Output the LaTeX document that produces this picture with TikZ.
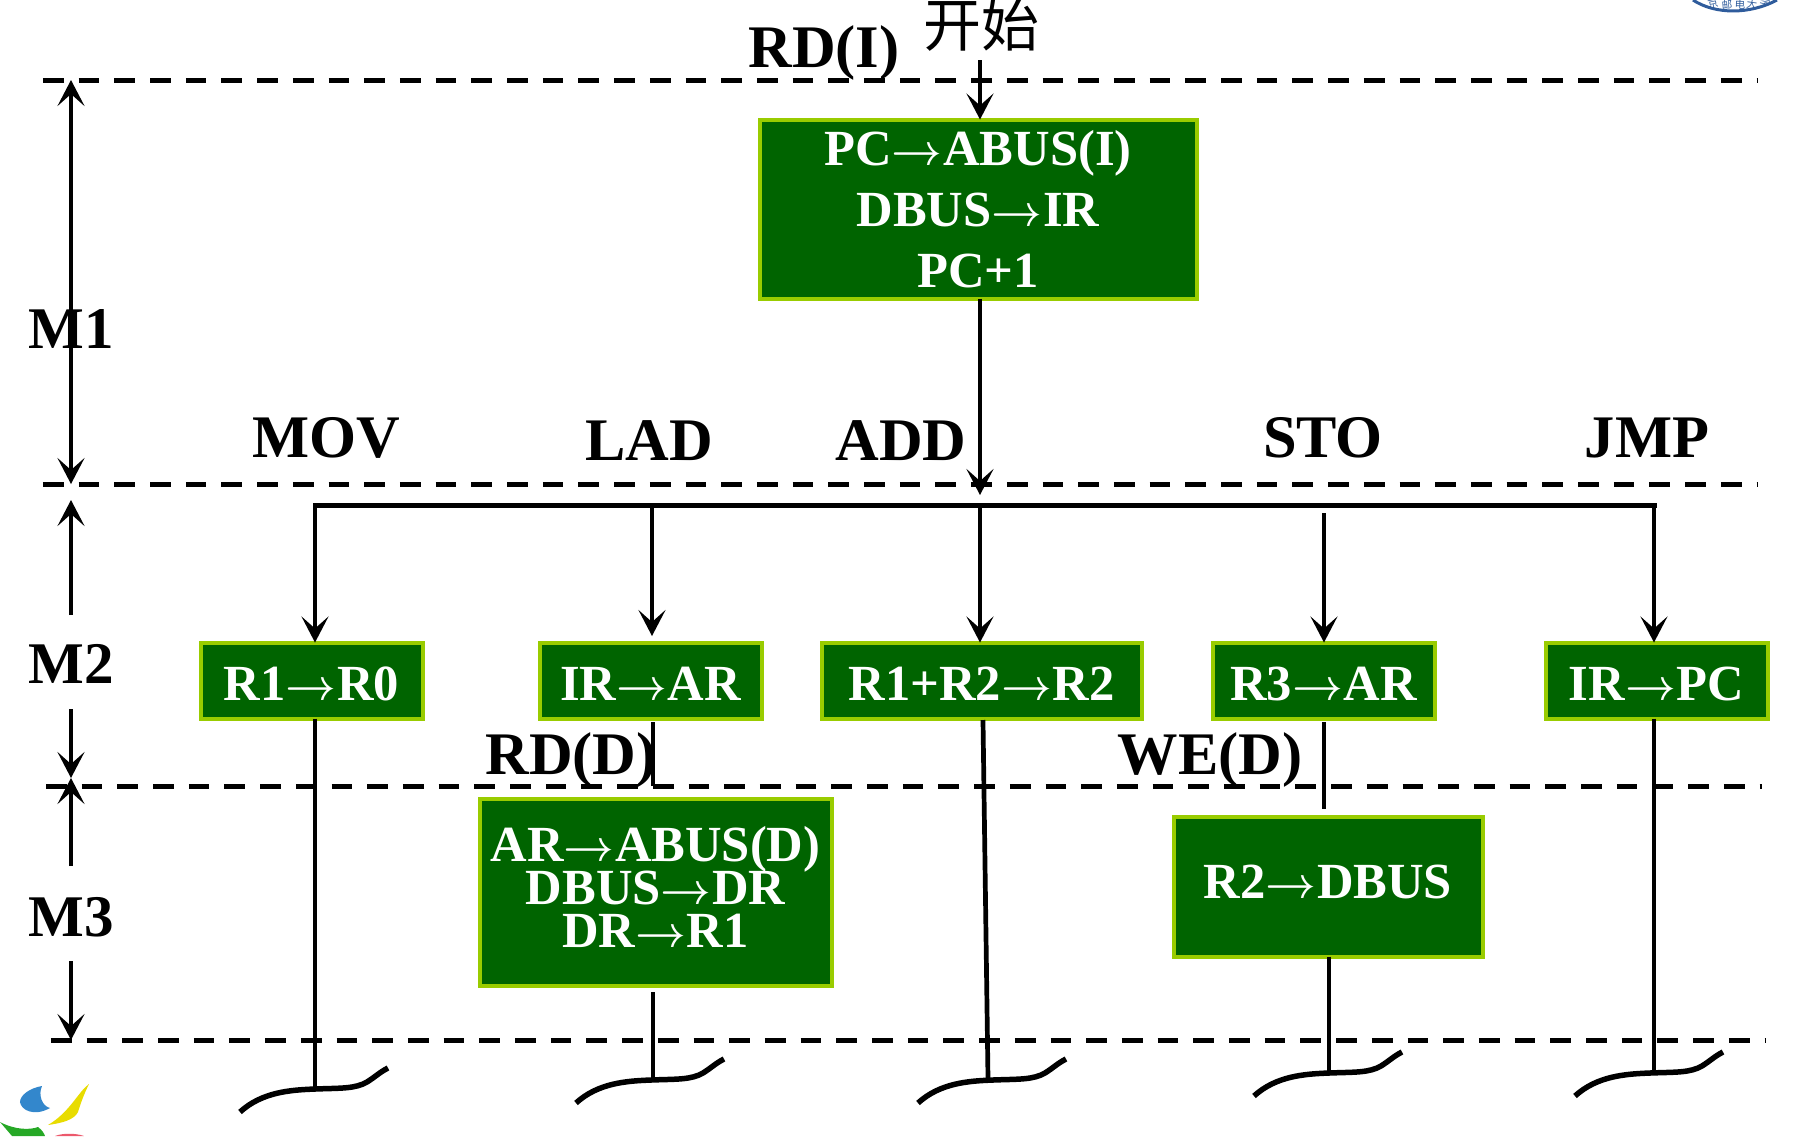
\documentclass[tikz,border=0pt]{standalone}
\usepackage{fontspec}
\setmainfont{Liberation Serif}
\newfontfamily\cjk{Noto Sans CJK SC}
\newfontfamily\arrowfont{Latin Modern Roman}
\newcommand{\ra}{{\arrowfont\fontsize{13}{12}\selectfont →}}
\usetikzlibrary{arrows.meta}
\definecolor{boxgreen}{HTML}{006400}
\definecolor{boxedge}{HTML}{99CC00}
\definecolor{sealblue}{HTML}{2F5C9C}
\tikzset{
  cyc/.style={draw=boxedge,fill=boxgreen,line width=0.04cm,text=white,font=\fontsize{14.4}{17.4}\selectfont\bfseries,align=center,inner sep=0pt,outer sep=0pt},
  lab/.style={font=\fontsize{17.2}{20}\selectfont\bfseries,inner sep=0pt},
  mlab/.style={font=\fontsize{16.8}{20}\selectfont\bfseries,inner sep=0pt},
  phase/.style={line width=0.05cm,dash pattern=on 0.207cm off 0.15cm},
  flow/.style={line width=0.047cm,-{Stealth[length=2.6mm,width=2.7mm,inset=1.2mm]}},
  both/.style={line width=0.047cm,{Stealth[length=2.6mm,width=2.7mm,inset=1.2mm]}-{Stealth[length=2.6mm,width=2.7mm,inset=1.2mm]}},
  wire/.style={line width=0.047cm},
  tailline/.style={line width=0.055cm,line cap=butt}
}
\newcommand{\tailcurve}[1]{\draw[tailline,shift={(#1)}] (-0.75,-0.23) .. controls (-0.53,-0.03) and (-0.25,-0.01) .. (0,0) .. controls (0.25,0.01) and (0.40,0) .. (0.52,0.07) .. controls (0.60,0.12) and (0.65,0.17) .. (0.73,0.21);}
\begin{document}
\begin{tikzpicture}
\useasboundingbox (0,0) rectangle (17.94,-11.36);
% phase boundaries
\coordinate (P1a) at (0.43,-0.80);\coordinate (P1b) at (17.57,-0.80);
\coordinate (P2a) at (0.43,-4.84);\coordinate (P2b) at (17.57,-4.84);
\coordinate (P3a) at (0.46,-7.86);\coordinate (P3b) at (17.62,-7.86);
\coordinate (P4a) at (0.51,-10.40);\coordinate (P4b) at (17.66,-10.40);
\draw[phase] (P1a)--(P1b);
\draw[phase] (P2a)--(P2b);
\draw[phase] (P3a)--(P3b);
\draw[phase] (P4a)--(P4b);
%
\node[cyc,minimum width=4.37cm,minimum height=1.79cm] (fetch) at (9.78,-2.09) {PC\ra ABUS(I)\\DBUS\ra IR\\PC+1};
\node[cyc,text height=11.5pt,minimum width=2.22cm,minimum height=0.76cm] (mov) at (3.115,-6.805) {R1\ra R0};
\node[cyc,text height=11.5pt,minimum width=2.22cm,minimum height=0.76cm] (lad) at (6.505,-6.805) {IR\ra AR};
\node[cyc,text height=11.5pt,minimum width=3.20cm,minimum height=0.76cm] (add) at (9.815,-6.805) {R1+R2\ra R2};
\node[cyc,text height=11.5pt,minimum width=2.22cm,minimum height=0.76cm] (sto) at (13.235,-6.805) {R3\ra AR};
\node[cyc,text height=11.5pt,minimum width=2.22cm,minimum height=0.76cm] (jmp) at (16.565,-6.805) {IR\ra PC};
\node[cyc,minimum width=3.52cm,minimum height=1.87cm] (ladmem) at (6.555,-8.92) {};
\node[text=white,font=\fontsize{14.4}{12.2}\selectfont\bfseries,align=center,inner sep=0pt,execute at begin node={\lineskiplimit=-10pt}] (ladtext) at (6.555,-8.87) {AR\ra ABUS(D)\\DBUS\ra DR\\DR\ra R1};
\node[cyc,text depth=2.6pt,minimum width=3.09cm,minimum height=1.40cm] (stomem) at (13.28,-8.865) {R2\ra DBUS};
%
\node[lab] (rdi) at (8.24,-0.53) {RD(I)};
\node[font=\cjk\fontsize{16.5}{18}\selectfont,inner sep=0pt] (start) at (9.81,-0.25) {开始};
\node[lab] (lmov) at (3.26,-4.38) {MOV};
\node[lab] (llad) at (6.49,-4.41) {LAD};
\node[lab] (ladd) at (9.01,-4.41) {ADD};
\node[lab] (lsto) at (13.23,-4.38) {STO};
\node[lab] (ljmp) at (16.47,-4.38) {JMP};
\node[lab] (rdd) at (5.71,-7.60) {RD(D)};
\node[lab] (wed) at (12.10,-7.60) {WE(D)};
\node[mlab] (m1) at (0.71,-3.29) {M1};
\node[mlab] (m2) at (0.71,-6.64) {M2};
\node[mlab] (m3) at (0.71,-9.17) {M3};
% cycle length arrows
\coordinate (Ma) at (0.71,-0.80);\coordinate (Mb) at (0.71,-4.84);
\coordinate (Mc) at (0.71,-5.00);\coordinate (Md) at (0.71,-6.15);
\coordinate (Me) at (0.71,-7.09);\coordinate (Mf) at (0.71,-7.78);
\coordinate (Mg) at (0.71,-8.66);\coordinate (Mh) at (0.71,-9.61);
\coordinate (Mi) at (0.71,-10.40);
\draw[both] (Ma)--(Mb);
\draw[flow] (Md)--(Mc);
\draw[flow] (Me)--(Mf);
\draw[flow] (Mg)--(Mf);
\draw[flow] (Mh)--(Mi);
% decoding bus
\coordinate (Bmov) at (3.15,-5.05);\coordinate (Blad) at (6.52,-5.05);
\coordinate (Badd) at (9.80,-5.05);\coordinate (Bsto) at (13.24,-5.13);
\coordinate (Bjmp) at (16.54,-5.05);
\coordinate (Sin) at (9.80,-0.60);
\coordinate (Sout) at (9.80,-4.95);
\draw[flow] (Sin)--(Sin |- fetch.north);
\draw[flow] (Sin |- fetch.south)--(Sout);
\draw[wire,line width=0.05cm,line cap=rect] (Bmov)--(Bjmp);
\draw[flow] (Bmov)--(Bmov |- mov.north);
\draw[flow] (Blad)--(6.52,-6.36);
\draw[flow] (Badd)--(Badd |- add.north);
\draw[flow] (Bsto)--(Bsto |- sto.north);
\draw[flow] (Bjmp)--(Bjmp |- jmp.north);
% tails
\coordinate (Tmov) at (3.15,-10.89);\coordinate (Tlad) at (6.51,-10.80);
\coordinate (Tadd) at (9.93,-10.80);\coordinate (Tsto) at (13.29,-10.73);
\coordinate (Tjmp) at (16.50,-10.73);
\draw[wire] (mov.south -| Tmov)--(Tmov);
\draw[wire] (6.53,-7.22)--(6.53,-7.86);
\draw[wire] (6.53,-9.92)--(6.53,-10.80);
\draw[wire] (9.83,-7.20)--(9.88,-10.78);
\draw[wire] (13.24,-7.22)--(13.24,-8.09);
\draw[wire] (stomem.south -| Tsto)--(Tsto);
\draw[wire] (Bjmp |- jmp.south)--(Bjmp |- Tjmp);
\tailcurve{Tmov}
\tailcurve{Tlad}
\tailcurve{Tadd}
\tailcurve{Tsto}
\tailcurve{Tjmp}
% logo at lower left
\fill[blue!45!cyan!60!gray] (0.42,-10.86) .. controls (0.30,-10.88) and (0.20,-10.95) .. (0.20,-11.02) .. controls (0.21,-11.10) and (0.34,-11.17) .. (0.50,-11.08) .. controls (0.42,-11.06) and (0.38,-10.95) .. cycle;
\fill[yellow!80!olive] (0.89,-10.84) .. controls (0.78,-10.92) and (0.70,-11.12) .. (0.48,-11.25) .. controls (0.62,-11.23) and (0.74,-11.20) .. (0.78,-11.12) .. controls (0.81,-11.02) and (0.85,-10.92) .. cycle;
\fill[green!60!black!85] (0,-11.22) .. controls (0.15,-11.30) and (0.30,-11.30) .. (0.38,-11.27) .. controls (0.42,-11.30) and (0.44,-11.33) .. (0.45,-11.36) -- (0.12,-11.36) -- cycle;
\fill[red!55!purple!65] (0.55,-11.36) .. controls (0.62,-11.33) and (0.76,-11.33) .. (0.84,-11.36) -- cycle;
% seal at upper right
\draw[sealblue,line width=0.03cm] (16.93,0) .. controls (17.15,-0.146) and (17.50,-0.146) .. (17.77,0);
\foreach \ch/\xx/\yy/\ang in {京/17.13/-0.035/12,邮/17.27/-0.05/5,电/17.40/-0.05/-2,大/17.52/-0.045/-8,学/17.65/-0.025/-14}
  \node[font=\cjk\fontsize{3}{4}\selectfont,text=sealblue,inner sep=0pt,rotate=\ang] at (\xx,\yy) {\ch};
\end{tikzpicture}
\end{document}
